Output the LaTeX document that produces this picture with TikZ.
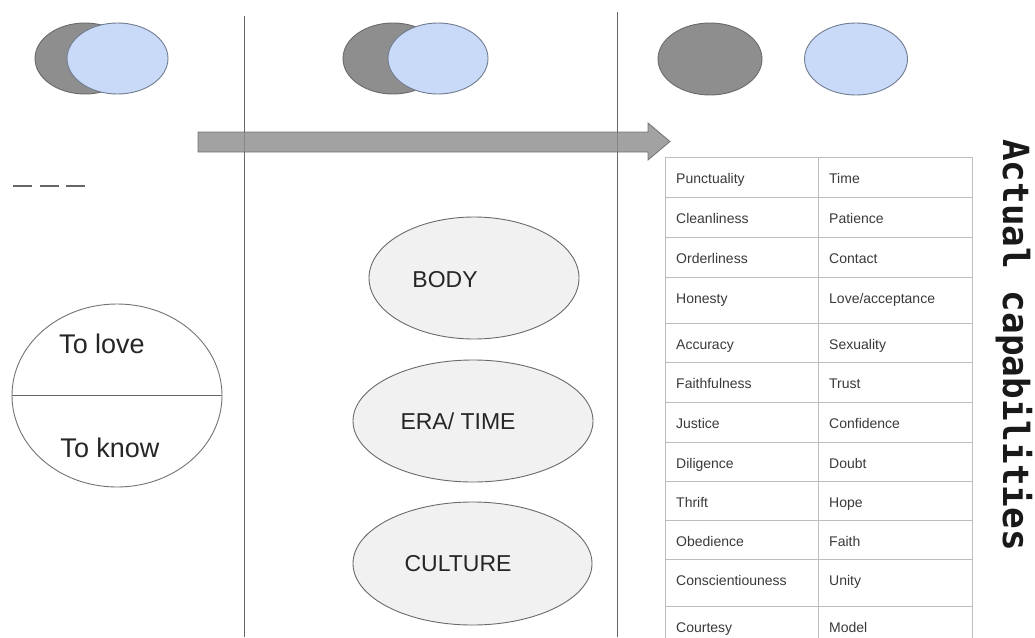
\documentclass[tikz,border=0pt]{standalone}
\usepackage{fontspec}
\setmainfont{Liberation Sans}
\newfontfamily\capmono{DejaVu Sans Mono}
\usetikzlibrary{shapes.geometric}
\definecolor{linegray}{HTML}{666666}
\definecolor{darkfill}{HTML}{8E8E8E}
\definecolor{darkedge}{HTML}{6A6A6A}
\definecolor{bluefill}{HTML}{C9DAF8}
\definecolor{blueedge}{HTML}{707C90}
\definecolor{lightfill}{HTML}{F1F1F1}
\definecolor{tablegray}{HTML}{BDBDBD}
\definecolor{textgray}{HTML}{3A3A3A}
\tikzset{
  oval/.style={ellipse, inner sep=0pt, line width=0.9pt},
  grayoval/.style={oval, draw=darkedge, fill=darkfill},
  blueoval/.style={oval, draw=blueedge, fill=bluefill},
  lightoval/.style={oval, draw=darkedge, fill=lightfill},
  divider/.style={draw=linegray, line width=1pt},
  bigtext/.style={font=\fontsize{27}{30}\selectfont, text=black!85},
  midtext/.style={font=\fontsize{23}{26}\selectfont, text=black!85},
  cell/.style={font=\fontsize{14}{16}\selectfont, text=textgray, inner sep=0pt, anchor=base west},
  tline/.style={draw=tablegray, line width=1pt},
}
\begin{document}
\begin{tikzpicture}[x=1pt,y=-1pt]
\useasboundingbox (0,0) rectangle (1035,637);
\clip (0,0) rectangle (1035,637);
\fill[white] (0,0) rectangle (1035,637);

% column dividers
\coordinate (v1t) at (244,16);
\coordinate (v1b) at (244,637);
\coordinate (v2t) at (617,12);
\coordinate (v2b) at (617,637);
\draw[divider] (v1t) -- (v1b);
\draw[divider] (v2t) -- (v2b);

% top ellipses
\node[grayoval, minimum width=100, minimum height=71] (g1) at (85,58.5) {};
\node[blueoval, minimum width=101, minimum height=71] (b1) at (117.5,58.5) {};
\node[grayoval, minimum width=100, minimum height=71] (g2) at (393,58.5) {};
\node[blueoval, minimum width=100, minimum height=71] (b2) at (438,58.5) {};
\node[grayoval, minimum width=104, minimum height=72] (g3) at (710,59) {};
\node[blueoval, minimum width=103, minimum height=72] (b3) at (856,59) {};

% block arrow
\path[fill=darkfill, draw=darkedge, line width=0.8pt, fill opacity=0.82, draw opacity=0.9]
  (198,132) -- (648,132) -- (648,123) -- (670,141.5) -- (648,160) -- (648,152) -- (198,152) -- cycle;

% dashed mark
\coordinate (d1) at (13,186);
\coordinate (d2) at (87,186);
\draw[draw=linegray, line width=2pt, dash pattern=on 19pt off 7.5pt] (d1) -- (d2);

% left split ellipse
\node[oval, draw=black!55, fill=white, minimum width=210, minimum height=183] (lk) at (117,395.5) {};
\draw[draw=black!60, line width=1.1pt] (lk.west) -- (lk.east);
\node[bigtext] (love) at (102,344) {To love};
\node[bigtext] (know) at (110,448) {To know};

% middle ellipses
\node[lightoval, minimum width=210, minimum height=122] (body) at (474,278) {};
\node[midtext] (bodyt) at (445,280) {BODY};
\node[lightoval, minimum width=240, minimum height=122] (era) at (473,421) {};
\node[midtext] (erat) at (458,421) {ERA/ TIME};
\node[lightoval, minimum width=239, minimum height=123] (cult) at (472.5,563.5) {};
\node[midtext] (cultt) at (458,564) {CULTURE};

% table
\foreach \t/\a/\b [count=\i] in {
  157/Punctuality/Time,
  197/Cleanliness/Patience,
  237/Orderliness/Contact,
  277/Honesty/Love\slash acceptance,
  323/Accuracy/Sexuality,
  362/Faithfulness/Trust,
  402/Justice/Confidence,
  442/Diligence/Doubt,
  481/Thrift/Hope,
  520/Obedience/Faith,
  559/Conscientiouness/Unity,
  606/Courtesy/Model} {
  \draw[tline] (665,\t) -- (972,\t);
  \node[cell] (l\i) at (676,\t+26) {\a};
  \node[cell] (r\i) at (829,\t+26) {\b};
}
\draw[tline] (665,157) -- (665,650);
\draw[tline] (818,157) -- (818,650);
\draw[tline] (972,157) -- (972,650);

% vertical title
\node[rotate=-90, anchor=base, inner sep=0pt, font=\capmono\bfseries\fontsize{36}{40}\selectfont, text=black!90] (title) at (1003,345) {Actual capabilities};
\end{tikzpicture}
\end{document}
